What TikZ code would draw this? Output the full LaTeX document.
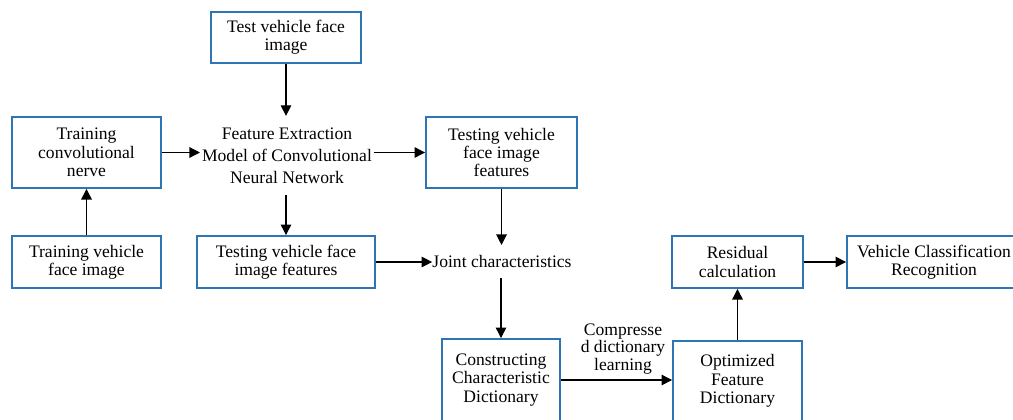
\documentclass[tikz,border=0pt]{standalone}
\usepackage{fontspec}
\setmainfont{Liberation Serif}
\usetikzlibrary{arrows.meta}
\definecolor{boxblue}{RGB}{46,117,182}

\begin{document}
\begin{tikzpicture}[x=0.02cm, y=-0.02cm, font=\fontsize{10}{10.4}\selectfont,
                    bx/.style={draw=boxblue, line width=1.1pt, align=center, inner sep=2pt},
                    txt/.style={align=center, inner xsep=0pt},
                    arr/.style={line width=0.7pt, -{Triangle[length=6pt, width=6pt]}}]
  \useasboundingbox (0,0) rectangle (1013,419);
  \node[bx, minimum width=3cm, minimum height=1.02cm] (test) at (286,37.5) {Test vehicle face\\image};
  \node[bx, minimum width=2.98cm, minimum height=1.42cm] (trconv) at (86.5,152.5) {Training\\convolutional\\nerve};
  \node[bx, minimum width=2.98cm, minimum height=1.04cm] (trimg) at (86.5,262) {Training vehicle\\face image};
  \node[txt, font=\fontsize{10}{12.5}\selectfont, inner xsep=1pt, inner ysep=6.5pt] (fem) at (287,155.5)
        {Feature Extraction\\Model of Convolutional\\Neural Network};
  \node[bx, minimum width=3.02cm, minimum height=1.42cm] (tfeat) at (501.5,152.5) {Testing vehicle\\face image\\features};
  \node[bx, minimum width=3.56cm, minimum height=1.04cm] (tfeat2) at (286,262) {Testing vehicle face\\image features};
  \node[txt, inner ysep=5.7pt] (joint) at (502,261.5) {Joint characteristics};
  \node[bx, minimum width=2.36cm, minimum height=1.64cm] (cdict) at (501,380) {Constructing\\Characteristic\\Dictionary};
  \node[bx, minimum width=2.58cm, minimum height=1.6cm] (odict) at (737.5,381) {Optimized\\Feature\\Dictionary};
  \node[bx, minimum width=2.62cm, minimum height=1.04cm] (resid) at (737.5,262) {Residual\\calculation};
  \node[bx, inner xsep=0pt, minimum width=3.48cm, minimum height=1.04cm] (vcr) at (934,262) {Vehicle Classification\\Recognition};
  \node[txt, font=\fontsize{10}{10}\selectfont] (cdl) at (623,349) {Compresse\\d dictionary\\learning};
  % connectors
  \draw[arr] (test.south) -- (test.south |- fem.north);
  \draw[arr] (trimg.north) -- (trconv.south);
  \draw[arr] (trconv.east) -- (trconv.east -| fem.west);
  \draw[arr] (fem.east |- tfeat.west) -- (tfeat.west);
  \draw[arr] (fem.south -| tfeat2.north) -- (tfeat2.north);
  \draw[arr] (tfeat.south) -- (tfeat.south |- joint.north);
  \draw[arr] (tfeat2.east) -- (tfeat2.east -| joint.west);
  \draw[arr] (joint.south -| cdict.north) -- (cdict.north);
  \draw[arr] (cdict.east) -- (cdict.east -| odict.west);
  \draw[arr] (odict.north) -- (resid.south);
  \draw[arr] (resid.east) -- (vcr.west);
\end{tikzpicture}
\end{document}
